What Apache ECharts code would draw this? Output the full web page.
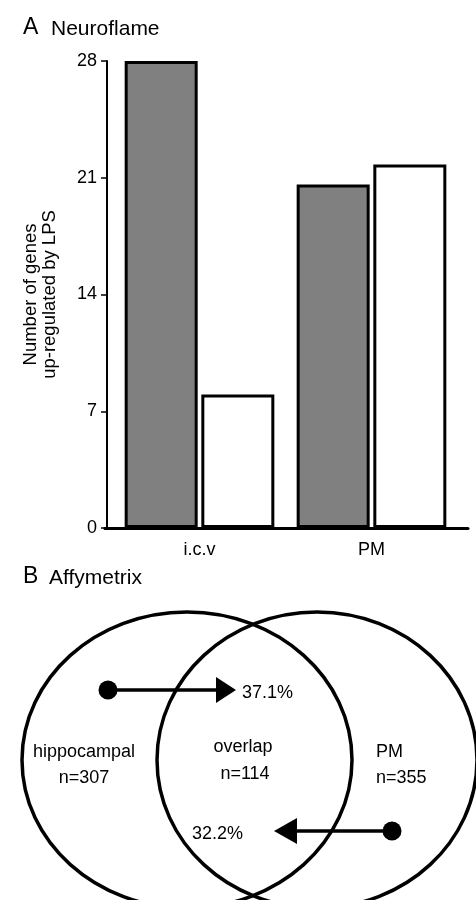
<!DOCTYPE html>
<html>
<head>
<meta charset="utf-8">
<script src="https://cdn.jsdelivr.net/npm/echarts@6/dist/echarts.min.js"></script>
<style>
html,body{margin:0;padding:0;background:#fff;}
#chart{width:476px;height:900px;}
</style>
</head>
<body>
<div id="chart"></div>
<script>
// ---- Panel A data ----
const categories = ['i.c.v', 'PM'];
const grayValues = [28, 20.6];
const whiteValues = [8, 21.8];
const yTicks = [0, 7, 14, 21, 28];
const yAxisName = 'Number of genes\nup-regulated by LPS';

// ---- Panel B data ----
const vennLabels = ['hippocampal', 'overlap', 'PM'];
const vennCounts = [307, 114, 355];
const vennPercents = ['37.1%', '32.2%'];

const chart = echarts.init(document.getElementById('chart'));
const FONT = 'Liberation Sans, Arial, Helvetica, sans-serif';
const TF = '18px ' + FONT;

const lw = 3.5;
const graphics = [
  // titles
  { type: 'text', x: 23, y: 28, style: { text: 'A', font: '23px ' + FONT, fill: '#000', textVerticalAlign: 'middle' } },
  { type: 'text', x: 51, y: 29, style: { text: 'Neuroflame', font: '21px ' + FONT, fill: '#000', textVerticalAlign: 'middle' } },
  { type: 'text', x: 23, y: 577, style: { text: 'B', font: '23px ' + FONT, fill: '#000', textVerticalAlign: 'middle' } },
  { type: 'text', x: 49, y: 578, style: { text: 'Affymetrix', font: '21px ' + FONT, fill: '#000', textVerticalAlign: 'middle' } },
  // Venn ellipses
  { type: 'ellipse', shape: { cx: 187, cy: 760, rx: 165, ry: 148 }, style: { fill: 'none', stroke: '#000', lineWidth: lw } },
  { type: 'ellipse', shape: { cx: 317, cy: 760, rx: 160, ry: 148 }, style: { fill: 'none', stroke: '#000', lineWidth: lw } },
  // top arrow
  { type: 'circle', shape: { cx: 108, cy: 690, r: 9.5 }, style: { fill: '#000' } },
  { type: 'line', shape: { x1: 108, y1: 690, x2: 220, y2: 690 }, style: { stroke: '#000', lineWidth: 3.5 } },
  { type: 'polygon', shape: { points: [[216, 677], [236, 690], [216, 703]] }, style: { fill: '#000' } },
  // bottom arrow
  { type: 'circle', shape: { cx: 392, cy: 831, r: 9.5 }, style: { fill: '#000' } },
  { type: 'line', shape: { x1: 392, y1: 831, x2: 292, y2: 831 }, style: { stroke: '#000', lineWidth: 3.5 } },
  { type: 'polygon', shape: { points: [[297, 818], [274, 831], [297, 844]] }, style: { fill: '#000' } },
  // texts
  { type: 'text', x: 242, y: 693, style: { text: vennPercents[0], font: TF, fill: '#000', textVerticalAlign: 'middle' } },
  { type: 'text', x: 192, y: 834, style: { text: vennPercents[1], font: TF, fill: '#000', textVerticalAlign: 'middle' } },
  { type: 'text', x: 84, y: 752, style: { text: vennLabels[0], font: TF, fill: '#000', textAlign: 'center', textVerticalAlign: 'middle' } },
  { type: 'text', x: 84, y: 778, style: { text: 'n=' + vennCounts[0], font: TF, fill: '#000', textAlign: 'center', textVerticalAlign: 'middle' } },
  { type: 'text', x: 243, y: 747, style: { text: vennLabels[1], font: TF, fill: '#000', textAlign: 'center', textVerticalAlign: 'middle' } },
  { type: 'text', x: 245, y: 774, style: { text: 'n=' + vennCounts[1], font: TF, fill: '#000', textAlign: 'center', textVerticalAlign: 'middle' } },
  { type: 'text', x: 376, y: 752, style: { text: vennLabels[2], font: TF, fill: '#000', textVerticalAlign: 'middle' } },
  { type: 'text', x: 376, y: 778, style: { text: 'n=' + vennCounts[2], font: TF, fill: '#000', textVerticalAlign: 'middle' } }
];

const option = {
  animation: false,
  backgroundColor: '#fff',
  textStyle: { fontFamily: FONT },
  grid: [
    { left: 113.5, top: 61, width: 344, height: 467, containLabel: false },
    { left: 105, top: 61, width: 363, height: 467, containLabel: false }
  ],
  xAxis: [
    {
      type: 'category', gridIndex: 0,
      data: categories,
      axisLine: { show: false },
      axisTick: { show: false },
      axisLabel: { color: '#000', fontSize: 18, margin: 13, fontFamily: FONT }
    },
    {
      type: 'category', gridIndex: 1,
      data: categories,
      axisLine: { show: true, lineStyle: { color: '#000', width: 3 } },
      axisTick: { show: false },
      axisLabel: { show: false }
    }
  ],
  yAxis: [
    {
      type: 'value', gridIndex: 0,
      offset: 6.5,
      min: yTicks[0],
      max: yTicks[yTicks.length - 1],
      interval: 7,
      name: yAxisName,
      nameLocation: 'middle',
      nameGap: 48,
      nameTextStyle: { color: '#000', fontSize: 18.5, lineHeight: 19, fontFamily: FONT },
      axisLine: { show: true, lineStyle: { color: '#000', width: 2 } },
      axisTick: { show: true, length: 6, lineStyle: { color: '#000', width: 1.5 } },
      axisLabel: { color: '#000', fontSize: 18, margin: 10, fontFamily: FONT },
      splitLine: { show: false }
    },
    {
      type: 'value', gridIndex: 1, show: false,
      min: yTicks[0], max: yTicks[yTicks.length - 1]
    }
  ],
  series: [
    {
      type: 'bar', xAxisIndex: 0, yAxisIndex: 0,
      data: grayValues, barWidth: 73, barGap: '5%',
      itemStyle: { color: '#808080', borderColor: '#000', borderWidth: 3 }
    },
    {
      type: 'bar', xAxisIndex: 0, yAxisIndex: 0,
      data: whiteValues, barWidth: 73,
      itemStyle: { color: '#fff', borderColor: '#000', borderWidth: 3 }
    }
  ],
  graphic: graphics
};
chart.setOption(option);
</script>
</body>
</html>
